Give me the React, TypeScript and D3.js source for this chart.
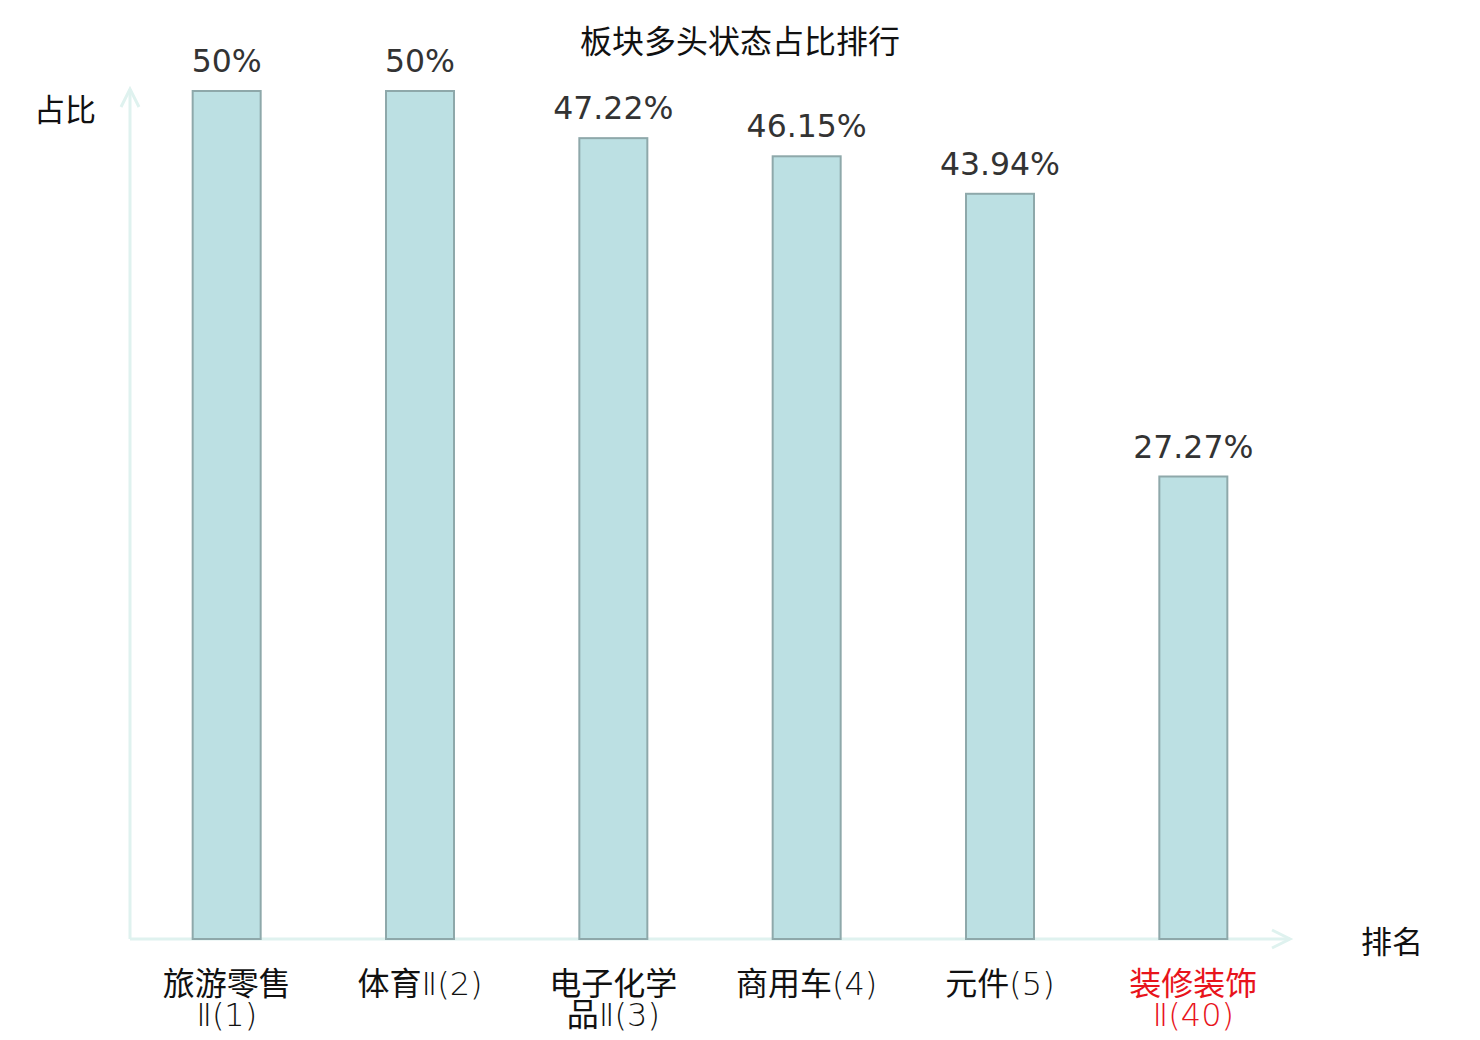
import React, { useEffect, useRef } from "react";
import * as d3 from "d3";

const title = "板块多头状态占比排行";
const categories = ["旅游零售Ⅱ(1)", "体育Ⅱ(2)", "电子化学品Ⅱ(3)", "商用车(4)", "元件(5)", "装修装饰Ⅱ(40)"];
const values = [50, 50, 47.22, 46.15, 43.94, 27.27];
const valueLabels = ["50%", "50%", "47.22%", "46.15%", "43.94%", "27.27%"];
const highlight = [false, false, false, false, false, true];
const yAxisName = "占比";
const xAxisName = "排名";

const W = 1480;
const H = 1040;
const CJK = "'Noto Sans CJK SC', 'Noto Sans', sans-serif";
const LATIN = "'DejaVu Sans', sans-serif";
const isCJK = (s: string) => /[\u4e00-\u9fff]/.test(s);

export default function App() {
  const ref = useRef<SVGSVGElement | null>(null);
  useEffect(() => {
    document.body.style.margin = "0";
    const svg = d3.select(ref.current);
    svg.selectAll("*").remove();
    const left = 130, right = 1290, base = 939, top = 91;
    const x = d3.scaleBand<string>().domain(categories).range([left, right]).paddingInner(0).paddingOuter(0);
    const y = d3.scaleLinear().domain([0, 50]).range([base, top]);
    const barW = 68;
    const axisColor = "#dff2ef";

    svg.append("text").attr("x", 740).attr("y", 53).attr("text-anchor", "middle")
      .attr("font-family", CJK).attr("font-size", 32).attr("fill", "#111").text(title);

    // axes
    svg.append("line").attr("x1", left).attr("x2", left).attr("y1", base).attr("y2", 89)
      .attr("stroke", axisColor).attr("stroke-width", 3);
    svg.append("path").attr("d", `M${left - 9},${107} L${left},${89} L${left + 9},${107}`)
      .attr("fill", "none").attr("stroke", axisColor).attr("stroke-width", 3);
    svg.append("line").attr("x1", left).attr("x2", right).attr("y1", base).attr("y2", base)
      .attr("stroke", axisColor).attr("stroke-width", 3);
    svg.append("path").attr("d", `M${right - 18},${base - 9} L${right},${base} L${right - 18},${base + 9}`)
      .attr("fill", "none").attr("stroke", axisColor).attr("stroke-width", 3);

    svg.append("text").attr("x", 34).attr("y", 121).attr("font-family", CJK).attr("font-size", 31)
      .attr("fill", "#111").text(yAxisName);
    svg.append("text").attr("x", 1361).attr("y", 953).attr("font-family", CJK).attr("font-size", 31)
      .attr("fill", "#111").text(xAxisName);

    const styleRun = (sel: any, s: string) =>
      isCJK(s)
        ? sel.attr("font-family", CJK).attr("font-weight", 400)
        : sel.attr("font-family", LATIN).attr("font-weight", 200);

    const measure = svg.append("text").attr("font-size", 32).attr("opacity", 0);
    const widthOf = (s: string) => {
      styleRun(measure, s);
      measure.text(s);
      return (measure.node() as SVGTextElement).getComputedTextLength();
    };

    const g = svg.append("g");
    categories.forEach((c, i) => {
      const cx = (x(c) as number) + x.bandwidth() / 2;
      g.append("rect").attr("x", cx - barW / 2).attr("y", y(values[i]))
        .attr("width", barW).attr("height", base - y(values[i]))
        .attr("fill", "#bce0e3").attr("stroke", "#8ea8aa").attr("stroke-width", 2);
      g.append("text").attr("x", cx).attr("y", y(values[i]) - 19).attr("text-anchor", "middle")
        .attr("font-family", LATIN).attr("font-size", 31.5).attr("fill", "#333").text(valueLabels[i]);

      // wrap label: CJK chars break anywhere, latin runs kept whole
      const tokens = c.match(/[\u4e00-\u9fff]|[^\u4e00-\u9fff]+/g) || [];
      const maxW = 145;
      const lines: string[][] = [];
      let cur: string[] = [];
      let curW = 0;
      tokens.forEach((tk) => {
        const w = widthOf(tk);
        if (curW + w > maxW && cur.length) { lines.push(cur); cur = [tk]; curW = w; }
        else { cur.push(tk); curW += w; }
      });
      if (cur.length) lines.push(cur);

      lines.forEach((ln, k) => {
        const t = g.append("text").attr("x", cx).attr("y", 995 + k * 31).attr("text-anchor", "middle")
          .attr("font-size", 32).attr("fill", highlight[i] ? "#e8141c" : "#111");
        // merge consecutive same-type tokens into runs
        const runs: string[] = [];
        ln.forEach((tk) => {
          if (runs.length && isCJK(runs[runs.length - 1]) === isCJK(tk)) runs[runs.length - 1] += tk;
          else runs.push(tk);
        });
        runs.forEach((r) => styleRun(t.append("tspan"), r).text(r));
      });
    });
    measure.remove();
  }, []);
  return <svg ref={ref} width={W} height={H} style={{ display: "block", background: "#fff" }} />;
}
